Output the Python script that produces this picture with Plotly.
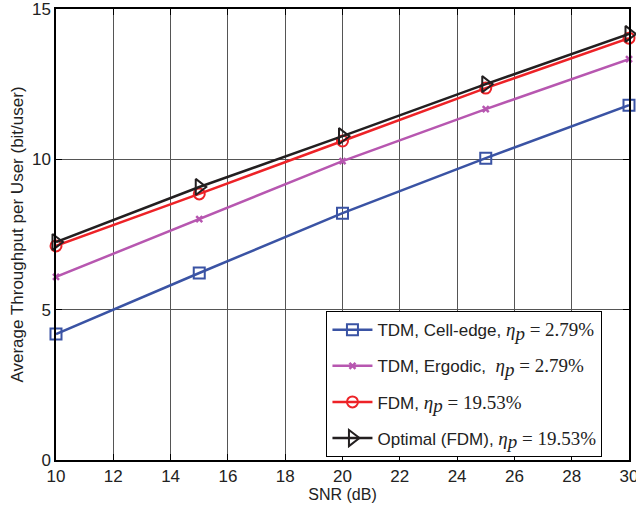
import plotly.graph_objects as go

snr_db = [10, 15, 20, 25, 30]
tdm_cell_edge = [4.19, 6.22, 8.21, 10.04, 11.80]
tdm_ergodic = [6.09, 8.01, 9.94, 11.67, 13.33]
fdm = [7.12, 8.85, 10.61, 12.37, 14.03]
optimal_fdm = [7.25, 9.08, 10.77, 12.50, 14.17]

x_ticks = [10, 12, 14, 16, 18, 20, 22, 24, 26, 28, 30]
y_ticks = [0, 5, 10, 15]

MATH = 'font-family:Liberation Serif;font-size:19px'


def eta(val):
    return (f'<span style="{MATH}"><i>η</i></span>'
            f'<sub><span style="{MATH}"><i>p</i></span></sub>'
            f'<span style="{MATH}"> = {val}</span>')


series = [
    ("TDM, Cell-edge, " + eta("2.79%"), tdm_cell_edge, "#3a53a4",
     dict(symbol="square-open", size=11, line=dict(width=2))),
    ("TDM, Ergodic,  " + eta("2.79%"), tdm_ergodic, "#b757b0",
     dict(symbol="x-thin-open", size=6, line=dict(width=2.5))),
    ("FDM, " + eta("19.53%"), fdm, "#ed2227",
     dict(symbol="circle-open", size=11, line=dict(width=2))),
    ("Optimal (FDM), " + eta("19.53%"), optimal_fdm, "#231f20",
     dict(symbol="triangle-right-open", size=14, line=dict(width=2))),
]

fig = go.Figure()
for i, (name, ys, color, marker) in enumerate(series):
    fig.add_trace(go.Scatter(
        x=snr_db, y=ys, name=name, mode="lines+markers",
        legendgroup=f"g{i}",
        line=dict(color=color, width=2.5),
        marker=dict(color=color, **marker),
        cliponaxis=False,
    ))

axis_common = dict(
    showline=True, linecolor="black", linewidth=1.5, mirror="ticks",
    ticks="inside", ticklen=6, tickcolor="black",
    showgrid=True, gridcolor="#555555", gridwidth=1,
    zeroline=False, automargin=False, ticklabeloverflow="allow",
    tickfont=dict(family="Liberation Sans, Arial", size=17, color="#222"),
)

fig.update_xaxes(range=[10, 30], tickvals=x_ticks, title_text="SNR (dB)",
                 title_standoff=2,
                 title_font=dict(family="Liberation Sans, Arial", size=16, color="#222"),
                 **axis_common)
fig.update_yaxes(range=[0, 15], tickvals=y_ticks,
                 title_text="Average Throughput per User (bit/user)",
                 title_standoff=4,
                 title_font=dict(family="Liberation Sans, Arial", size=17, color="#222"),
                 **axis_common)

fig.update_layout(
    width=636, height=511,
    margin=dict(l=56, r=7, t=9, b=51),
    plot_bgcolor="white", paper_bgcolor="white",
    showlegend=True,
    legend=dict(
        x=0.472, y=0.33, xanchor="left", yanchor="top",
        bgcolor="white", bordercolor="black", borderwidth=1,
        font=dict(family="Liberation Sans, Arial", size=17, color="#222"),
        traceorder="grouped", tracegroupgap=11, itemwidth=40,
    ),
)

fig.write_html("out.html")
